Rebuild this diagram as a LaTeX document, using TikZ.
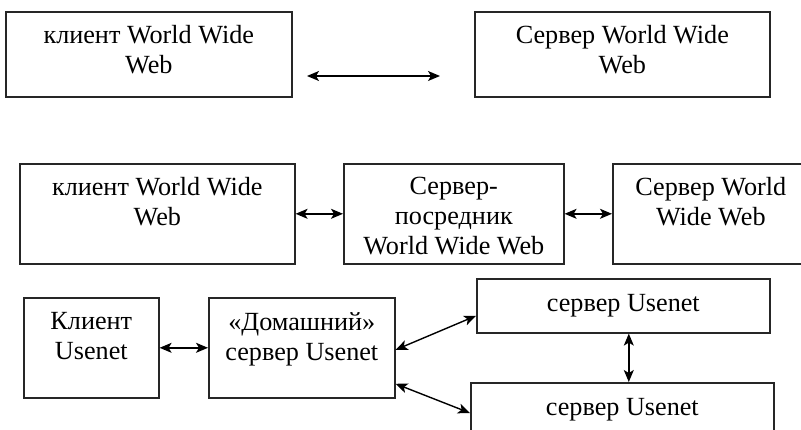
\documentclass[tikz,border=0pt]{standalone}
\usepackage{fontspec}
\setmainfont{Liberation Serif}
\usetikzlibrary{arrows.meta,calc}
\tikzset{
  box/.style={draw=black!85,line width=1.6pt,rectangle,inner sep=0pt,anchor=north west},
  txt/.style={anchor=north,inner sep=0pt,align=center,font=\fontsize{26.2}{30}\selectfont},
  link/.style={line width=1.4pt,{Stealth[length=12pt,width=10pt,inset=3pt]}-{Stealth[length=12pt,width=10pt,inset=3pt]}}
}
\begin{document}
\begin{tikzpicture}[x=1pt,y=-1pt]
\useasboundingbox (0,0) rectangle (801,429);
\clip (0,0) rectangle (801,429);
% row 1
\node[box,minimum width=286pt,minimum height=85pt] (b1) at (5,11) {};
\node[box,minimum width=295pt,minimum height=85pt] (b2) at (474,11) {};
\node[txt] (t1) at ([yshift=-14pt]b1.north) {клиент World Wide\\Web};
\node[txt] (t2) at ([yshift=-14pt]b2.north) {Сервер World Wide\\Web};
\coordinate (a1) at (307,76);
\coordinate (a2) at (440,76);
\draw[link] (a1) -- (a2);
% row 2
\node[box,minimum width=275pt,minimum height=100pt] (b3) at (19,163) {};
\node[box,minimum width=220pt,minimum height=100pt] (b4) at (343,163) {};
\node[box,minimum width=196pt,minimum height=100pt] (b5) at (612,163) {};
\node[txt] (t3) at ([yshift=-14pt]b3.north) {клиент World Wide\\Web};
\node[txt] (t4) at ([yshift=-14pt]b4.north) {Сервер-\\посредник\\World Wide Web};
\node[txt] (t5) at ([yshift=-14pt]b5.north) {Сервер World\\Wide Web};
\draw[link] (b3.east) -- (b4.west);
\draw[link] (b4.east) -- (b5.west);
% row 3
\node[box,minimum width=135pt,minimum height=100pt] (c1) at (23,297) {};
\node[box,minimum width=186pt,minimum height=100pt] (c2) at (208,297) {};
\node[box,minimum width=293pt,minimum height=54pt] (c3) at (476,278) {};
\node[box,minimum width=303pt,minimum height=60pt] (c4) at (470,382) {};
\node[txt] (t6) at ([yshift=-15pt]c1.north) {Клиент\\Usenet};
\node[txt] (t7) at ([yshift=-15pt]c2.north) {«Домашний»\\сервер Usenet};
\node[txt] (t8) at ([yshift=-16pt]c3.north) {сервер Usenet};
\node[txt] (t9) at ([yshift=-16pt]c4.north) {сервер Usenet};
\draw[link] (c1.east) -- (c2.west);
\draw[link] ([yshift=-2pt]c2.east) -- ([yshift=-10pt]c3.west);
\draw[link] ([yshift=-36pt]c2.east) -- ([yshift=-31pt]c4.north west);
\draw[link] ([xshift=5.5pt]c3.south) -- ([xshift=5.5pt]c3.south |- c4.north);
\end{tikzpicture}
\end{document}
